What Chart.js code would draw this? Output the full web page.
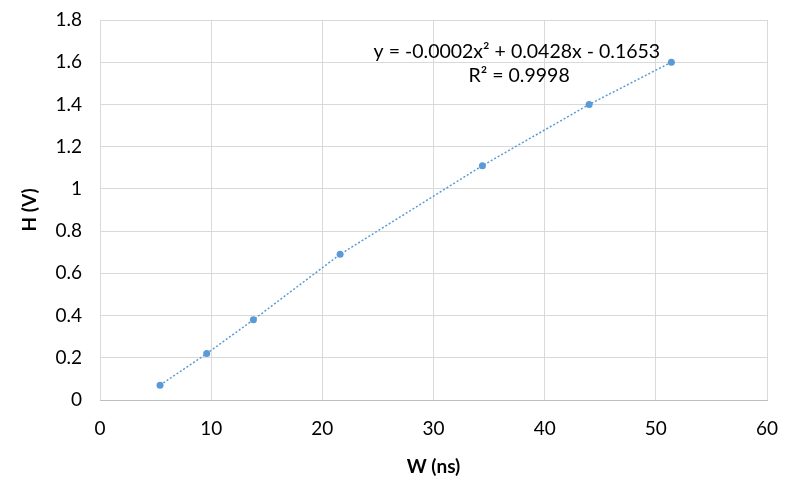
<!DOCTYPE html>
<html>
<head>
<meta charset="utf-8">
<script src="https://cdn.jsdelivr.net/npm/chart.js@4"></script>
<style>
  html, body { margin: 0; padding: 0; background: #fff; }
  #wrap { width: 791px; height: 487px; }
</style>
</head>
<body>
<div id="wrap"><canvas id="chart"></canvas></div>
<script>
// W (ns) and H (V) readings
const widthNs = [5.4, 9.6, 13.8, 21.6, 34.4, 44.0, 51.4];
const heightV = [0.07, 0.22, 0.38, 0.69, 1.11, 1.40, 1.60];
const equationLines = ['y = -0.0002x² + 0.0428x - 0.1653', 'R² = 0.9998'];

const points = widthNs.map((w, i) => ({ x: w, y: heightV[i] }));
const blue = '#5b9bd5';
const font = 'Lato, "Liberation Sans", sans-serif';

// trendline label, placed in data coordinates
const equationLabel = {
    id: 'equationLabel',
    afterDatasetsDraw(chart) {
        const ctx = chart.ctx;
        const xs = chart.scales.x, ys = chart.scales.y;
        ctx.save();
        ctx.fillStyle = '#000';
        ctx.font = '19.5px ' + font;
        ctx.textAlign = 'center';
        ctx.textBaseline = 'middle';
        ctx.fillText(equationLines[0], xs.getPixelForValue(37.5), ys.getPixelForValue(1.652));
        ctx.fillText(equationLines[1], xs.getPixelForValue(37.7), ys.getPixelForValue(1.535));
        ctx.restore();
    }
};

new Chart(document.getElementById('chart'), {
    type: 'scatter',
    data: {
        datasets: [{
            data: points,
            showLine: true,
            borderColor: blue,
            borderWidth: 1.5,
            borderDash: [2, 2],
            backgroundColor: blue,
            pointRadius: 3.5,
            pointBorderWidth: 0,
            pointHoverRadius: 3.5
        }]
    },
    options: {
        responsive: true,
        maintainAspectRatio: false,
        animation: false,
        layout: { padding: { top: 20, right: 24, left: 0, bottom: 0 } },
        plugins: {
            legend: { display: false },
            tooltip: { enabled: false }
        },
        scales: {
            x: {
                type: 'linear',
                min: 0,
                max: 60,
                ticks: { stepSize: 10, color: '#000', padding: 17, font: { size: 19, family: font } },
                grid: { color: '#d9d9d9', drawTicks: false },
                border: { color: '#bfbfbf' },
                title: { display: true, text: 'W (ns)', color: '#000', font: { size: 19, weight: 'bold', family: font }, padding: { top: 0, bottom: 9 } },
                afterFit(scale) {
                    scale.height = 87;
                    scale.paddingLeft = 0;
                    scale.paddingRight = 0;
                }
            },
            y: {
                min: 0,
                max: 1.8,
                ticks: { stepSize: 0.2, color: '#000', padding: 18, font: { size: 19, family: font },
                         callback: v => Math.round(v * 10) / 10 },
                grid: { color: '#d9d9d9', drawTicks: false },
                border: { display: false },
                title: { display: true, text: 'H (V)', color: '#000', font: { size: 19, weight: 'bold', family: font }, padding: { top: 18, bottom: 0 } },
                afterFit(scale) {
                    scale.width = 100;
                    scale.paddingTop = 0;
                    scale.paddingBottom = 0;
                }
            }
        }
    },
    plugins: [equationLabel]
});
</script>
</body>
</html>
